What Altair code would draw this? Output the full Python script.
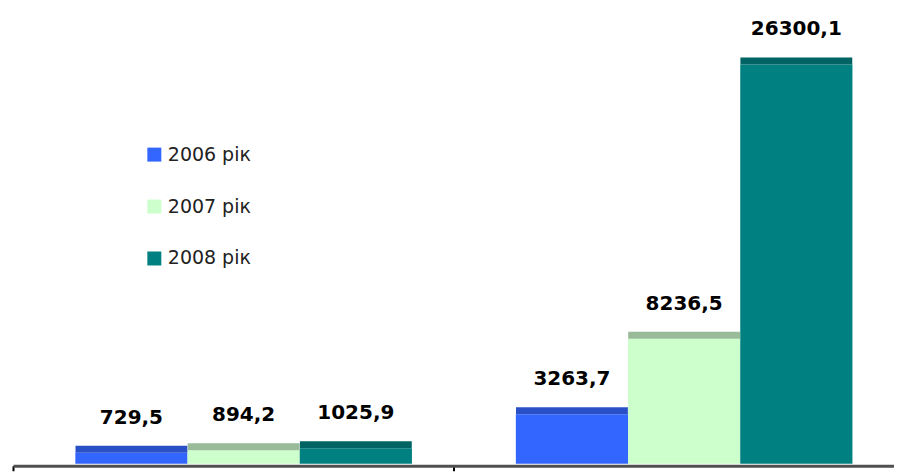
import altair as alt
import pandas as pd

groups = ["Група 1", "Група 2"]
years = ["2006 рік", "2007 рік", "2008 рік"]
v2006 = [729.5, 3263.7]
v2007 = [894.2, 8236.5]
v2008 = [1025.9, 26300.1]

bar_colors = ["#3366FF", "#CCFFCC", "#008080"]
face_colors = ["#2A50C8", "#99BB99", "#006464"]

rows = []
for yr, vals in zip(years, [v2006, v2007, v2008]):
    for g, v in zip(groups, vals):
        rows.append({"group": g, "year": yr, "value": v})
df = pd.DataFrame(rows)

x = alt.X(
    "group:N", sort=groups,
    scale=alt.Scale(paddingInner=0, paddingOuter=0),
    axis=alt.Axis(title=None, labels=False, bandPosition=0, domainColor="#505050",
                  domainWidth=3, tickColor="#000000", tickWidth=2, tickSize=5,
                  grid=False, offset=2),
)
xo = alt.XOffset("year:N", sort=years,
                 scale=alt.Scale(paddingInner=0, paddingOuter=0.463, align=0.6))
y = alt.Y("value:Q", scale=alt.Scale(domain=[0, 30000], nice=False, zero=True), axis=None)

base = alt.Chart(df).encode(x=x, xOffset=xo, y=y)

bars = base.mark_bar(opacity=1).encode(
    color=alt.Color(
        "year:N", sort=years,
        scale=alt.Scale(domain=years, range=bar_colors),
        legend=alt.Legend(
            orient="none", legendX=132, legendY=137, title=None,
            symbolType="square", symbolSize=196, symbolStrokeWidth=0, symbolOpacity=1,
            labelFont="DejaVu Sans", labelFontSize=19, labelColor="#222222",
            rowPadding=32, labelOffset=4, padding=0,
        ),
    )
)

faces = base.mark_tick(thickness=7, size=112, yOffset=-3.5, opacity=1).encode(
    color=alt.Color("year:N", sort=years,
                    scale=alt.Scale(domain=years, range=face_colors), legend=None)
)

labels = base.transform_calculate(
    label="replace(format(datum.value, '.1f'), '.', ',')"
).mark_text(
    font="DejaVu Sans", fontWeight="bold", fontSize=20, dy=-29,
    baseline="alphabetic", color="#000000",
).encode(text="label:N")

chart = alt.layer(bars, faces, labels).resolve_scale(color="independent").properties(
    width=882, height=456,
    padding={"left": 4, "top": 0, "right": 0, "bottom": 0},
).configure_view(stroke=None)

chart.save("out.html", embed_options={"renderer": "svg", "actions": False})
